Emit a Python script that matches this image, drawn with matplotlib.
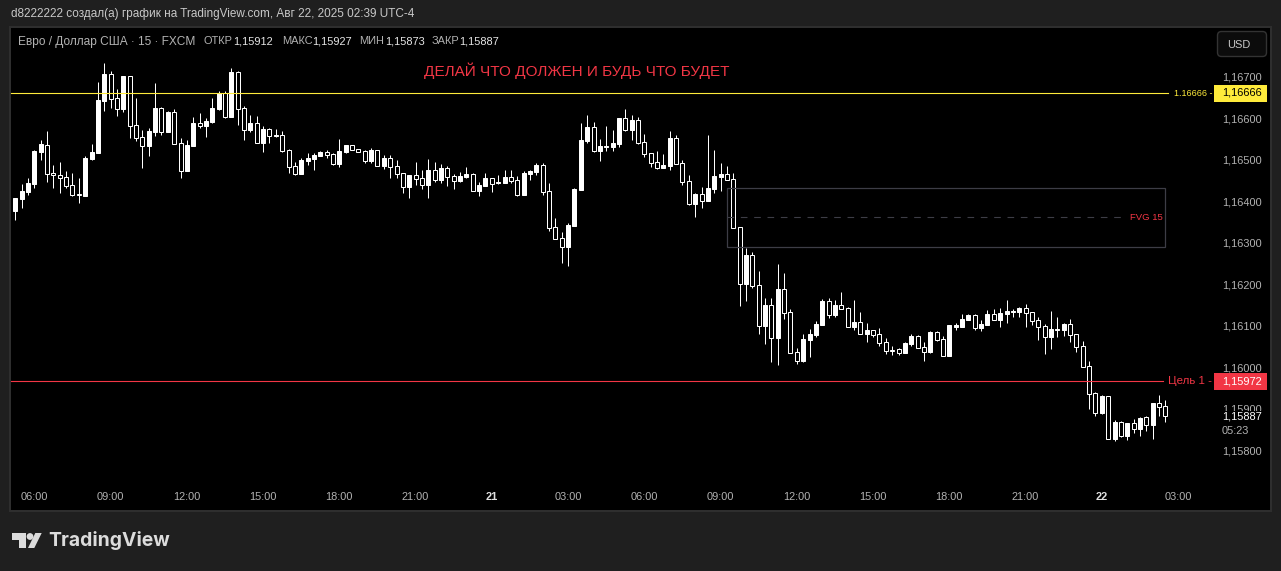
import matplotlib
matplotlib.use("Agg")
import matplotlib.pyplot as plt
from matplotlib.patches import Rectangle, Polygon, Circle, FancyBboxPatch
from matplotlib.transforms import blended_transform_factory, ScaledTranslation

BASE = 1.16000  # values below are in 0.00001 units above this price
UNIT = 0.00001

opens = [382,411,427,447,524,542,473,468,464,444,423,418,507,522,647,712,654,628,708,589,560,538,572,630,572,621,546,478,538,594,587,596,628,666,608,717,630,577,594,546,579,563,565,529,491,
471,503,507,515,524,520,495,524,541,532,527,503,529,491,510,491,474,440,469,462,445,481,457,486,467,454,464,471,430,442,462,450,450,464,457,421,471,476,493,430,344,317,295,346,433,551,585,527,536,536,544,606,577,602,549,522,500,486,491,558,498,454,399,423,406,435,464,471,459,344,206,276,204,105,155,76,194,139,
42,20,71,83,107,165,131,155,148,102,114,85,95,85,66,47,49,40,61,81,54,42,90,73,32,
102,102,119,131,100,107,134,119,134,138,138,148,138,119,105,78,95,95,110,85,56,8,-57,-105,-64,-168,-127,-161,-129,-144,-115,-134,-81,-88]
highs = [413,448,461,529,553,575,493,500,478,473,461,514,543,693,739,719,676,708,708,654,577,582,691,632,623,628,558,553,609,618,606,654,671,671,727,719,635,613,611,587,582,579,575,531,500,
510,522,522,527,529,522,556,541,541,532,529,534,529,517,517,505,474,469,500,481,507,500,495,491,471,476,488,474,452,474,462,469,481,481,467,479,481,498,498,450,365,331,353,438,594,614,597,556,587,577,606,628,614,609,568,522,527,520,575,565,505,469,426,440,565,529,498,491,474,344,293,283,237,172,172,254,233,146,
52,85,97,117,170,172,167,187,150,167,138,112,95,100,76,56,52,66,85,83,66,93,93,81,107,
112,134,134,134,119,143,146,148,167,146,151,158,138,126,110,141,126,112,122,85,68,20,-55,-62,-64,-122,-124,-129,-120,-115,-112,-81,-62,-73]
lows = [360,389,420,437,505,452,437,425,437,418,401,418,505,522,623,630,611,621,558,551,486,515,563,565,572,543,461,478,538,582,560,594,625,606,608,589,553,572,546,524,546,560,524,473,469,
471,493,481,515,510,493,488,522,529,524,498,498,491,483,462,462,426,413,445,435,413,452,450,442,435,452,462,430,418,442,428,447,450,450,418,421,457,469,421,334,315,257,249,346,433,546,524,503,527,527,536,575,553,544,512,488,483,486,481,495,445,397,368,389,406,426,430,457,341,153,165,196,85,61,18,11,122,40,
13,18,30,78,107,124,126,146,102,95,85,66,78,56,37,35,35,40,56,52,20,40,68,32,32,
95,102,119,95,93,107,119,102,112,126,126,102,107,71,37,49,78,80,66,42,6,-96,-112,-108,-168,-173,-163,-170,-153,-161,-149,-168,-112,-127]
closes = [413,430,449,526,543,472,468,462,443,421,421,510,524,649,712,652,628,708,587,558,538,575,630,572,621,543,478,541,594,587,599,630,666,608,717,628,577,594,546,579,563,565,526,488,471,
505,510,517,524,518,495,527,541,529,524,503,529,491,510,488,471,440,469,459,445,481,457,486,464,454,467,471,430,445,462,447,452,464,454,421,474,479,493,428,341,315,295,348,435,553,585,527,539,539,546,606,577,602,546,520,498,486,493,558,495,452,399,423,406,438,467,471,457,341,206,276,201,105,155,76,194,136,40,
20,73,85,109,165,131,155,146,102,114,85,95,83,64,44,44,40,64,81,52,42,90,71,32,107,
107,122,131,100,110,134,119,136,141,141,148,136,117,102,78,97,97,110,83,54,6,-59,-105,-64,-168,-127,-161,-129,-144,-117,-134,-81,-91,-113]

time_ticks = [3,15,27,39,51,63,75,87,99,111,123,135,147,159,171,183]
time_labels = ["06:00","09:00","12:00","15:00","18:00","21:00","21","03:00","06:00","09:00","12:00","15:00","18:00","21:00","22","03:00"]
price_ticks = [1.158,1.159,1.160,1.161,1.162,1.163,1.164,1.165,1.166,1.167]

level_yellow = 1.16666
level_red = 1.15972
last_close = 1.15887
fvg_top = 1.16437
fvg_bottom = 1.16295
fvg_mid = 1.16367
fvg_start, fvg_end = 112, 181

FRAME = "#1f1f1f"
BORDER = "#2e2e2e"
TICK = "#b2b2b2"
YELLOW = "#ffeb3b"
RED = "#f23645"
FONT = "Liberation Sans"

def px(v):
    return v * 0.72

fig = plt.figure(figsize=(12.81, 5.71), dpi=100, facecolor=FRAME)
W, H = 1281, 571

chrome = fig.add_axes([0, 0, 1, 1], zorder=0)
chrome.set_xlim(0, W)
chrome.set_ylim(H, 0)
chrome.axis("off")
chrome.add_patch(Rectangle((10, 27), 1261, 484, fc="black", ec=BORDER, lw=1.44))

L, R, T, B = 11, 1214, 28, 484
ax = fig.add_axes([L / W, (H - B) / H, (R - L) / W, (B - T) / H], zorder=1)
ax.set_facecolor("black")
for s in ax.spines.values():
    s.set_visible(False)

def price(v):
    return [BASE + p * UNIT for p in v]

O, Hi, Lo, C = price(opens), price(highs), price(lows), price(closes)
xs = list(range(len(O)))

ax.vlines(xs, Lo, Hi, colors="white", lw=0.72, zorder=3)
body_w = 4.0 / 6.354
for x, o, c in zip(xs, O, C):
    up = c >= o
    ax.add_patch(Rectangle((x - body_w / 2, min(o, c)), body_w, max(abs(c - o), 2 * UNIT),
                           fc="white" if up else "black", ec="white", lw=0.72, zorder=4))

# horizontal levels and FVG box
chrome_tf = chrome.transData
xtrans = blended_transform_factory(chrome_tf, ax.transData)
ax.plot([11, 1168], [level_yellow] * 2, color=YELLOW, lw=0.8, transform=xtrans, zorder=5, clip_on=False)
ax.plot([11, 1163], [level_red] * 2, color=RED, lw=0.8, transform=xtrans, zorder=5, clip_on=False)
ax.add_patch(Rectangle((fvg_start, fvg_bottom), fvg_end - fvg_start, fvg_top - fvg_bottom,
                       fc="none", ec="#3d3d46", lw=0.9, zorder=5))
ax.plot([fvg_start, 174.5], [fvg_mid] * 2, color="#3d3d46", lw=0.8, ls=(0, (6, 6)), zorder=5)
ax.text(1163, fvg_mid, "FVG 15", color=RED, fontsize=px(9.5), family=FONT, ha="right", va="center",
        transform=xtrans, zorder=6, clip_on=False)
ax.text(1213, level_yellow, "1.16666 -", color=YELLOW, fontsize=px(9), family=FONT, ha="right", va="center",
        transform=xtrans, zorder=6, clip_on=False)
ax.text(1212, level_red, "Цель 1 -", color=RED, fontsize=px(11.5), family=FONT, ha="right", va="center",
        transform=xtrans, zorder=6, clip_on=False)

ax.set_xlim((L - 15.3) / 6.354, (R - 15.3) / 6.354)
ax.set_ylim(BASE + (369.4 - B) * 2.412 * UNIT, BASE + (369.4 - T) * 2.412 * UNIT)

ax.yaxis.tick_right()
ax.set_yticks(price_ticks)
ax.set_yticklabels([f"{v:.5f}".replace(".", ",") for v in price_ticks], fontsize=px(11), family=FONT, color=TICK)
ax.set_xticks(time_ticks)
ax.set_xticklabels(time_labels, fontsize=px(11), family=FONT, color=TICK)
ax.tick_params(axis="y", length=0, pad=px(8))
ax.tick_params(axis="x", length=0, pad=px(8))
up_shift = ScaledTranslation(0, 2.2 / 100, fig.dpi_scale_trans)
for lab in ax.get_yticklabels():
    lab.set_transform(lab.get_transform() + up_shift)
for lab in ax.get_xticklabels():
    if lab.get_text() in ("21", "22"):
        lab.set_fontweight("bold")
        lab.set_color("#e0e0e0")

# price axis labels
ax.add_patch(Rectangle((1214, 85), 53, 17, fc=YELLOW, ec="none", transform=chrome_tf, zorder=6, clip_on=False))
ax.add_patch(Rectangle((1214, 373), 53, 17, fc=RED, ec="none", transform=chrome_tf, zorder=6, clip_on=False))
ax.add_patch(Rectangle((1215, 410.5), 54, 27, fc="black", ec="none", transform=chrome_tf, zorder=6, clip_on=False))
def tag(y, s, col):
    ax.text(1222, y, s, color=col, fontsize=px(11), family=FONT, ha="left", va="center",
            transform=chrome_tf, zorder=7, clip_on=False)
tag(92.5, f"{level_yellow:.5f}".replace(".", ","), "black")
tag(381, f"{level_red:.5f}".replace(".", ","), "white")
tag(416.5, f"{last_close:.5f}".replace(".", ","), "white")
tag(430.5, "05:23", TICK)

ax.text(577, 71, "ДЕЛАЙ ЧТО ДОЛЖЕН И БУДЬ ЧТО БУДЕТ", color=RED, fontsize=px(15.3), family=FONT,
        ha="center", va="center", transform=chrome_tf, zorder=7)

# header texts
def ct(x, y, s, col="#b2b2b2", size=11, **kw):
    kw.setdefault("family", FONT)
    chrome.text(x, y, s, color=col, fontsize=px(size), ha="left", va="center", **kw)

def ht(x, y, s, col, size=11):
    ax.text(x, y, s, color=col, fontsize=px(size), family=FONT, ha="left", va="center",
            transform=chrome_tf, zorder=7, clip_on=False)

ct(11, 14.5, "d8222222 создал(а) график на TradingView.com, Авг 22, 2025 02:39 UTC-4", "#c8c8c8", 11.75)
ht(18, 41.5, "Евро / Доллар США · 15 · FXCM", "#b2b2b2", 11.85)
for x, s in [(204, "ОТКР"), (282, "МАКС"), (359, "МИН"), (432, "ЗАКР")]:
    ht(x, 41.5, s, "#b2b2b2")
for x, s in [(233, "1,15912"), (312, "1,15927"), (385, "1,15873"), (459, "1,15887")]:
    ht(x, 41.5, s, "#e6e6e6")

ax.add_patch(FancyBboxPatch((1219, 33), 46, 22, boxstyle="round,pad=1.5,rounding_size=4",
                            fc="#0c0c0c", ec="#333333", lw=1, transform=chrome_tf, zorder=6, clip_on=False))
ht(1227, 44.5, "USD", "#c8c8c8")

# logo
logo = "#dcdcdc"
chrome.add_patch(Polygon([(12, 533), (26, 533), (26, 548), (19, 548), (19, 540), (12, 540)], fc=logo, ec="none"))
chrome.add_patch(Circle((30, 536.5), 3.4, fc=logo, ec="none"))
chrome.add_patch(Polygon([(35.3, 533), (41.7, 533), (34.3, 548), (28, 548)], fc=logo, ec="none"))
ct(48.5, 541, "TradingView", logo, 19.4, family="Inter", fontweight="bold")

fig.savefig("out.png", dpi=100, facecolor=FRAME)
